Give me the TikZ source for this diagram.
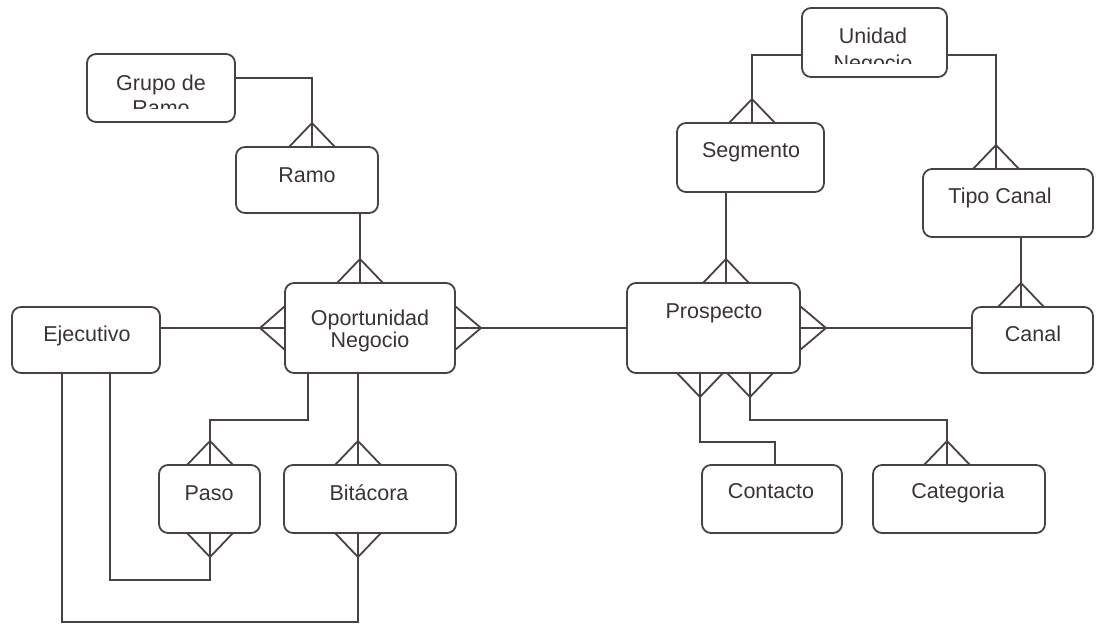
\documentclass[tikz,border=0pt]{standalone}
\usepackage{fontspec}
\setmainfont{Liberation Sans}
\usetikzlibrary{calc}

\definecolor{linec}{HTML}{4A4048}
\definecolor{txtc}{HTML}{3A3238}

% crow's feet (many side) on an entity edge; argument is the point on the edge
\newcommand\crowN[1]{\draw[conn] (#1) ++(-23,0) -- ++(23,-24) -- ++(23,24);}
\newcommand\crowS[1]{\draw[conn] (#1) ++(-23,0) -- ++(23,24) -- ++(23,-24);}
\newcommand\crowW[1]{\draw[conn] (#1) ++(0,-22) -- ++(-25,22) -- ++(25,22);}
\newcommand\crowE[1]{\draw[conn] (#1) ++(0,-22) -- ++(26,22) -- ++(-26,22);}

\begin{document}
\begin{tikzpicture}[x=1pt,y=-1pt,
  entity/.style={draw=linec, line width=1.8pt, rounded corners=9pt,
    rectangle, outer sep=0pt, inner sep=0pt},
  conn/.style={draw=linec, line width=1.8pt, line join=miter},
  lbl/.style={anchor=base, inner sep=0pt, text=txtc,
    font=\fontsize{21.5}{25}\selectfont}]
\useasboundingbox (0,0) rectangle (1097,624);

% entities
\node[entity, minimum width=148pt, minimum height=68pt] (grupo) at (161,88) {};
\node[entity, minimum width=142pt, minimum height=66pt] (ramo) at (307,180) {};
\node[entity, minimum width=145pt, minimum height=69pt] (unidad) at (874.5,42.5) {};
\node[entity, minimum width=147pt, minimum height=69pt] (segm) at (750.5,157.5) {};
\node[entity, minimum width=170pt, minimum height=68pt] (tipo) at (1008,203) {};
\node[entity, minimum width=148pt, minimum height=66pt] (ejec) at (86,340) {};
\node[entity, minimum width=170pt, minimum height=90pt] (oport) at (370,328) {};
\node[entity, minimum width=173pt, minimum height=90pt] (prosp) at (713.5,328) {};
\node[entity, minimum width=121pt, minimum height=66pt] (canal) at (1032.5,340) {};
\node[entity, minimum width=101pt, minimum height=68pt] (paso) at (209.5,499) {};
\node[entity, minimum width=172pt, minimum height=68pt] (bita) at (370,499) {};
\node[entity, minimum width=140pt, minimum height=68pt] (contacto) at (772,499) {};
\node[entity, minimum width=172pt, minimum height=68pt] (categ) at (959,499) {};

% labels
\node[lbl] (grupo-t) at (161,90) {Grupo de};
\begin{scope}
  \clip (87,54) rectangle (235,108);
  \node[lbl] (grupo-t2) at (161,115) {Ramo};
\end{scope}
\node[lbl] (ramo-t) at (307,182) {Ramo};
\node[lbl] (unidad-t) at (873,43) {Unidad};
\begin{scope}
  \clip (802,8) rectangle (947,63);
  \node[lbl] (unidad-t2) at (873,70) {Negocio};
\end{scope}
\node[lbl] (segm-t) at (751,157) {Segmento};
\node[lbl] (tipo-t) at (1000,203) {Tipo Canal};
\node[lbl] (ejec-t) at (87,341) {Ejecutivo};
\node[lbl] (oport-t) at (370,325) {Oportunidad};
\node[lbl] (oport-t2) at (370,347) {Negocio};
\node[lbl] (prosp-t) at (714,318) {Prospecto};
\node[lbl] (canal-t) at (1033,341) {Canal};
\node[lbl] (paso-t) at (209,500) {Paso};
\node[lbl] (bita-t) at (369,500) {Bitácora};
\node[lbl] (contacto-t) at (771,498) {Contacto};
\node[lbl] (categ-t) at (958,498) {Categoria};

% junction points of the orthogonal connectors
\coordinate (j1) at (312,78);
\coordinate (j2) at (360,250);
\coordinate (j3) at (752,55);
\coordinate (j4) at (996,55);
\coordinate (j5) at (726,240);
\coordinate (j6) at (1021,270);
\coordinate (j7) at (700,442);
\coordinate (j8) at (775,442);
\coordinate (j9) at (750,420);
\coordinate (j10) at (947,420);
\coordinate (j11) at (308,420);
\coordinate (j12) at (210,420);
\coordinate (j13) at (358,420);
\coordinate (j14) at (110,580);
\coordinate (j15) at (210,580);
\coordinate (j16) at (62,622);
\coordinate (j17) at (358,622);

% relationships
\draw[conn] (grupo.east |- j1) -- (j1) -- (j1 |- ramo.north);
\crowN{j1 |- ramo.north}

\draw[conn] (j2 |- ramo.south) -- (j2 |- oport.north);
\crowN{j2 |- oport.north}

\draw[conn] (ejec.east |- oport.west) -- (oport.west);
\crowW{oport.west}

\draw[conn] (oport.east) -- (prosp.west);
\crowE{oport.east}

\draw[conn] (unidad.west |- j3) -- (j3) -- (j3 |- segm.north);
\crowN{j3 |- segm.north}

\draw[conn] (unidad.east |- j4) -- (j4) -- (j4 |- tipo.north);
\crowN{j4 |- tipo.north}

\draw[conn] (j5 |- segm.south) -- (j5 |- prosp.north);
\crowN{j5 |- prosp.north}

\draw[conn] (j6 |- tipo.south) -- (j6 |- canal.north);
\crowN{j6 |- canal.north}

\draw[conn] (prosp.east) -- (prosp.east -| canal.west);
\crowE{prosp.east}

\draw[conn] (j7 |- prosp.south) -- (j7) -- (j8) -- (j8 |- contacto.north);
\crowS{j7 |- prosp.south}

\draw[conn] (j9 |- prosp.south) -- (j9) -- (j10) -- (j10 |- categ.north);
\crowS{j9 |- prosp.south}
\crowN{j10 |- categ.north}

\draw[conn] (j11 |- oport.south) -- (j11) -- (j12) -- (j12 |- paso.north);
\crowN{j12 |- paso.north}

\draw[conn] (j13 |- oport.south) -- (j13 |- bita.north);
\crowN{j13 |- bita.north}

\draw[conn] (j14 |- ejec.south) -- (j14) -- (j15) -- (j15 |- paso.south);
\crowS{j15 |- paso.south}

\draw[conn] (j16 |- ejec.south) -- (j16) -- (j17) -- (j17 |- bita.south);
\crowS{j17 |- bita.south}
\end{tikzpicture}
\end{document}
